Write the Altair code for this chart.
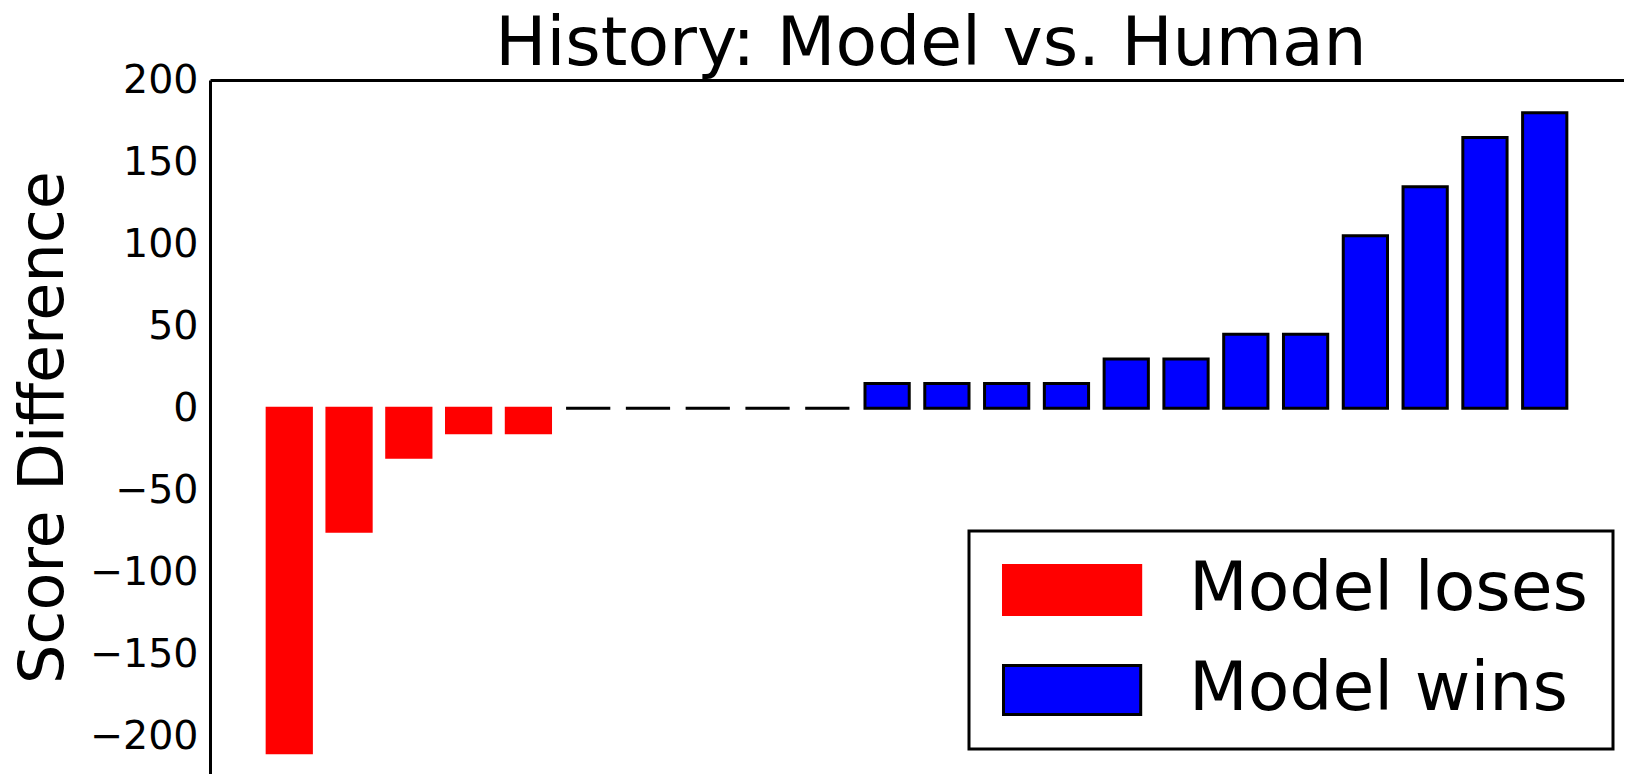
import altair as alt
import pandas as pd

# Score difference per game (model minus human), sorted
scores = [-210, -75, -30, -15, -15, 0, 0, 0, 0, 0,
          15, 15, 15, 15, 30, 30, 45, 45, 105, 135, 165, 180]
outcome_labels = ["Model loses", "Model wins"]
bar_colors = ["#ff0000", "#0000ff"]
edge_colors = ["#ff0000", "#000000"]
y_ticks = [-200, -150, -100, -50, 0, 50, 100, 150, 200]

df = pd.DataFrame({
    "idx": list(range(len(scores))),
    "score": scores,
    "outcome": [outcome_labels[0] if s < 0 else outcome_labels[1] for s in scores],
})

FONT = "DejaVu Sans"

legend = alt.Legend(
    title=None,
    orient="none",
    legendX=759,
    legendY=451,
    symbolType="M-1,-1H4.6V1H-1Z",
    symbolSize=2401,
    symbolStrokeWidth=3,
    labelFont=FONT,
    labelFontSize=68,
    labelColor="black",
    labelOffset=127,
    labelLimit=1000,
    rowPadding=32,
    padding=25,
    strokeColor="black",
)

chart = alt.Chart(df).mark_bar(strokeWidth=3).encode(
    x=alt.X(
        "idx:O",
        scale=alt.Scale(paddingInner=0.26, paddingOuter=0.956),
        axis=alt.Axis(orient="top", labels=False, ticks=False, domain=True,
                      domainColor="black", domainWidth=3, title=None, grid=False),
    ),
    y=alt.Y(
        "score:Q",
        scale=alt.Scale(domain=[-223, 200], nice=False),
        axis=alt.Axis(
            values=y_ticks, grid=False, ticks=False, tickSize=0,
            domain=True, domainColor="black", domainWidth=3,
            labelFont=FONT, labelFontSize=39.5, labelColor="black", labelPadding=12,
            title="Score Difference", titleFont=FONT, titleFontSize=62,
            titleFontWeight="normal", titleColor="black", titlePadding=14,
        ),
    ),
    color=alt.Color("outcome:N", scale=alt.Scale(domain=outcome_labels, range=bar_colors), legend=legend),
    stroke=alt.Stroke("outcome:N", scale=alt.Scale(domain=outcome_labels, range=edge_colors), legend=legend),
).properties(
    width=1414,
    height=694,
    title=alt.TitleParams(
        "History: Model vs. Human", font=FONT, fontSize=68, fontWeight="normal",
        color="black", anchor="middle", dx=14, dy=23, offset=4,
    ),
    autosize=alt.AutoSizeParams(type="none"),
    padding={"left": 202, "top": 72, "right": 0, "bottom": 0},
).configure_view(
    stroke="transparent"
).configure_legend(
    strokeWidth=3
)

chart.save("out.html", embed_options={"renderer": "svg", "actions": False})
